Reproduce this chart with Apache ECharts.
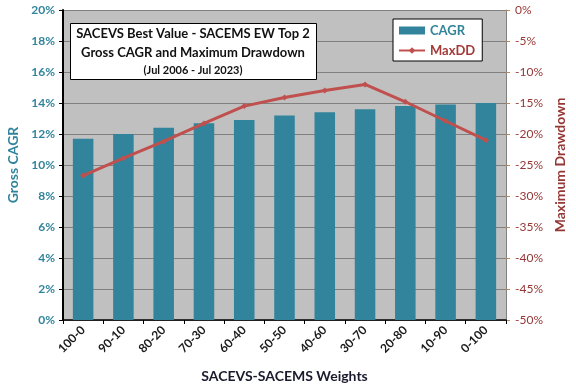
<!DOCTYPE html>
<html><head><meta charset="utf-8">
<script src="https://cdn.jsdelivr.net/npm/echarts@6/dist/echarts.min.js"></script>
<style>html,body{margin:0;padding:0;background:#fff}#c{width:576px;height:385px}</style>
</head><body><div id="c"></div>
<script>
const categories = ['100-0','90-10','80-20','70-30','60-40','50-50','40-60','30-70','20-80','10-90','0-100'];
const cagr = [11.7, 12.0, 12.4, 12.7, 12.9, 13.2, 13.4, 13.6, 13.8, 13.9, 14.0];
const maxDD = [-26.7, -23.9, -21.2, -18.3, -15.5, -14.1, -13.0, -12.0, -14.8, -17.9, -21.0];
const titleLines = ['SACEVS Best Value - SACEMS EW Top 2', 'Gross CAGR and Maximum Drawdown'];
const subtitle = '(Jul 2006 - Jul 2023)';

const FONT = 'Lato, "Open Sans", sans-serif';
const chart = echarts.init(document.getElementById('c'), null, {renderer: 'canvas'});
const tStyle = (t, size) => ({text: t, fontFamily: FONT, fontSize: size, fontWeight: 'bold', fill: '#111', align: 'center', verticalAlign: 'middle'});
chart.setOption({
  backgroundColor: '#ffffff',
  animation: false,
  textStyle: {fontFamily: FONT},
  graphic: [
    {type: 'rect', left: 70, top: 23, z: 10,
     shape: {width: 246, height: 56},
     style: {fill: '#fff', stroke: '#000', lineWidth: 1}},
    {type: 'text', x: 193, y: 34, z: 11, style: tStyle(titleLines[0], 13)},
    {type: 'text', x: 193, y: 53, z: 11, style: tStyle(titleLines[1], 13)},
    {type: 'text', x: 193, y: 70, z: 11, style: tStyle(subtitle, 11)}
  ],
  legend: {
    orient: 'vertical', left: 393, top: 19,
    backgroundColor: '#ffffff', borderColor: '#000', borderWidth: 1,
    padding: [5, 7, 4, 5], itemGap: 7, itemWidth: 26, itemHeight: 8,
    textStyle: {fontFamily: FONT, fontSize: 13, fontWeight: 'bold', color: '#31849B'},
    data: [
      {name: 'CAGR', icon: 'rect'},
      {name: 'MaxDD', textStyle: {color: '#A33B3A', fontWeight: 'bold', fontSize: 13}}
    ]
  },
  grid: {left: 63, right: 70, top: 10, bottom: 65, show: true, backgroundColor: '#C0C0C0', borderWidth: 0, outerBoundsMode: 'none', containLabel: false},
  xAxis: {
    type: 'category', data: categories,
    name: 'SACEVS-SACEMS Weights', nameLocation: 'middle', nameGap: 49,
    nameTextStyle: {fontFamily: FONT, fontSize: 14, fontWeight: 'bold', color: '#1a1a2e'},
    axisLine: {lineStyle: {color: '#000', width: 1.5}},
    axisTick: {show: true, lineStyle: {color: '#000'}, length: 4},
    axisLabel: {rotate: 45, fontFamily: FONT, fontSize: 12, fontWeight: 'bold', color: '#1a1a1a', margin: 8}
  },
  yAxis: [
    {
      type: 'value', min: 0, max: 20, interval: 2,
      name: 'Gross CAGR', nameLocation: 'middle', nameGap: 43, nameRotate: 90,
      nameTextStyle: {fontFamily: FONT, fontSize: 14, fontWeight: 'bold', color: '#31849B'},
      axisLine: {show: true, lineStyle: {color: '#000', width: 2}},
      axisTick: {show: true, lineStyle: {color: '#000'}, length: 4},
      splitLine: {show: true, lineStyle: {color: '#808080', width: 1}},
      axisLabel: {formatter: '{value}%', fontFamily: FONT, fontSize: 12, fontWeight: 'bold', color: '#31849B', margin: 8}
    },
    {
      type: 'value', min: -50, max: 0, interval: 5,
      name: 'Maximum Drawdown', nameLocation: 'middle', nameGap: 46, nameRotate: 90,
      nameTextStyle: {fontFamily: FONT, fontSize: 14, fontWeight: 'bold', color: '#953735'},
      axisLine: {show: true, lineStyle: {color: '#808080', width: 1}},
      axisTick: {show: true, lineStyle: {color: '#C0875A'}, length: 4},
      splitLine: {show: false},
      axisLabel: {formatter: '{value}%', fontFamily: FONT, fontSize: 12, color: '#953735', margin: 9}
    }
  ],
  series: [
    {
      name: 'CAGR', type: 'bar', data: cagr, yAxisIndex: 0,
      barWidth: '51%',
      itemStyle: {color: '#31849B'}
    },
    {
      name: 'MaxDD', type: 'line', data: maxDD, yAxisIndex: 1,
      symbol: 'diamond', symbolSize: 6,
      lineStyle: {color: '#C0504D', width: 3},
      itemStyle: {color: '#C0504D'}
    }
  ]
});
</script></body></html>
